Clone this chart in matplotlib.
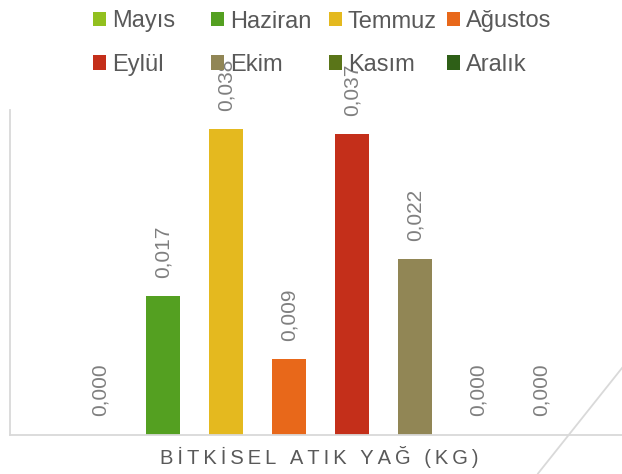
"""
Bitkisel atik yag (kg) - aylik sutun grafigi
"""

import matplotlib
matplotlib.use('Agg')
import matplotlib.pyplot as plt
from matplotlib.lines import Line2D

# Veriler
MONTHS = ['Mayıs', 'Haziran', 'Temmuz', 'Ağustos', 'Eylül', 'Ekim', 'Kasım', 'Aralık']
VALUES = [0.0, 0.0172, 0.03795, 0.0094, 0.03733, 0.0218, 0.0, 0.0]
COLORS = ['#92c01f', '#54a021', '#e4b91f', '#e8681a', '#c42f1a', '#918655', '#5a7518', '#2e5f17']
AXIS_TITLE = 'BİTKİSEL ATIK YAĞ (KG)'

LEGEND_GRAY = '#595959'
LABEL_GRAY = '#7f7f7f'
LINE_GRAY = '#d9d9d9'

plt.rcParams['font.family'] = ['Liberation Sans', 'DejaVu Sans']

W, H = 622, 474
fig = plt.figure(figsize=(W / 100, H / 100), dpi=100)
fig.patch.set_facecolor('white')

# axes placed in pixel terms
left_px, right_px, top_px, base_px = 10, 622, 110, 434.5
ax = fig.add_axes([left_px / W, (H - base_px) / H,
                   (right_px - left_px) / W, (base_px - top_px) / H])

x = list(range(len(MONTHS)))
bars = []
for i, (m, v, c) in enumerate(zip(MONTHS, VALUES, COLORS)):
    b = ax.bar(x[i], v, width=0.54, color=c, label=m)
    bars.append(b)
    ax.annotate(f'{v:.3f}'.replace('.', ','), xy=(x[i], v),
                xytext=(0, 13), textcoords='offset points',
                rotation=90, ha='center', va='bottom',
                fontsize=15, color=LABEL_GRAY)

ax.set_xlim(-90 / 63, (622 - 100) / 63)
ax.set_ylim(0, 0.0403)

for s in ['top', 'right']:
    ax.spines[s].set_visible(False)
for s in ['left', 'bottom']:
    ax.spines[s].set_color(LINE_GRAY)
    ax.spines[s].set_linewidth(1.3)
ax.set_xticks([])
ax.set_yticks([])

# axis title with letter spacing
spaced = '\u2009'.join(AXIS_TITLE)
ax.set_xlabel(spaced, fontsize=14.5, color=LEGEND_GRAY)
ax.xaxis.set_label_coords((319 - left_px) / (right_px - left_px),
                          (base_px - 456.7) / (base_px - top_px))
ax.xaxis.label.set_va('center')

# legend: 4 columns of 2 rows, fixed column positions like Excel
col_px = [93, 211, 329, 447]
for c in range(4):
    hs = [bars[c], bars[c + 4]]
    ls = [MONTHS[c], MONTHS[c + 4]]
    leg = fig.legend(hs, ls, loc='upper left',
                     bbox_to_anchor=(col_px[c] / W, 1 - 10.5 / H),
                     ncol=1, frameon=False, fontsize=17,
                     handlelength=0.55, handleheight=0.55,
                     handletextpad=0.25, labelspacing=0.9,
                     borderpad=0, borderaxespad=0)
    for t in leg.get_texts():
        t.set_color(LEGEND_GRAY)

# stray diagonal line at bottom right
fig.add_artist(Line2D([622 / W, 538 / W], [1 - 368 / H, 1 - 473.5 / H],
                      transform=fig.transFigure, color=LINE_GRAY, lw=1.3))

fig.savefig('out.png', dpi=100, facecolor='white')
